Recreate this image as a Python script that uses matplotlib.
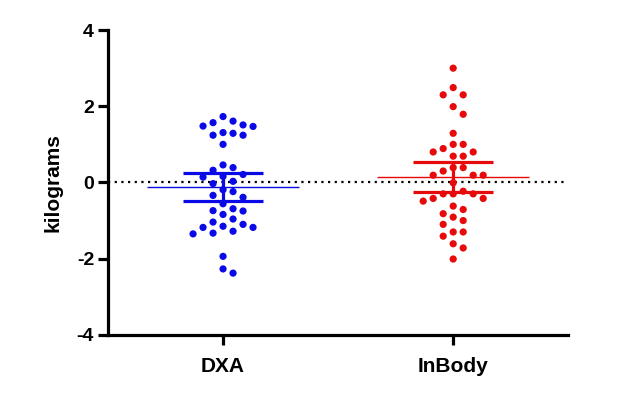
#!/usr/bin/env python3
"""Scatter dot plot (mean with 95% CI) of DXA vs InBody differences."""

import numpy as np
import matplotlib
matplotlib.use("Agg")
import matplotlib.pyplot as plt

# --- data (kg) ---
groups = ["DXA", "InBody"]
colors = ["#0a0ae6", "#e60a0a"]

dxa_values = [
    1.73, 1.48, 1.57, 1.61, 1.47, 1.51, 1.31, 1.24, 1.29, 1.24, 1.00,
    0.39, 0.46, 0.21, 0.14, 0.32, 0.03, 0.16, -0.03,
    -0.24, -0.19, -0.39, -0.34, -0.56, -0.69, -0.75, -0.74, -0.84,
    -0.96, -1.04, -1.10, -1.18, -1.28, -1.35, -1.33, -1.18, -1.15,
    -1.94, -2.27, -2.38,
]
inbody_values = [
    3.00, 2.49, 2.30, 2.30, 1.99, 1.79, 1.29, 1.00, 1.00, 0.89, 0.80,
    0.69, 0.69, 0.80, 0.39, 0.39, 0.30, 0.19, 0.19, 0.19, -0.01,
    -0.30, -0.30, -0.23, -0.30, -0.42, -0.49, -0.42, -0.62, -0.71,
    -0.82, -0.91, -1.00, -1.10, -1.30, -1.30, -1.41, -1.61, -1.72, -2.01,
]
yticks = [-4, -2, 0, 2, 4]

T_975 = 2.0227  # t quantile, df = 39


def swarm_offsets(values, px_per_y, px_per_x, diam=10.0):
    """Simple beeswarm: place points at the nearest free half-step slot."""
    order = np.argsort(values)[::-1]
    placed = []
    offs = np.zeros(len(values))
    step = diam / 2.0
    for i in order:
        y = values[i] * px_per_y
        k = 0
        while True:
            cands = [0.0] if k == 0 else [k * step, -k * step]
            done = False
            for c in cands:
                if all((c - px) ** 2 + (y - py) ** 2 >= diam ** 2 for px, py in placed):
                    offs[i] = c
                    placed.append((c, y))
                    done = True
                    break
            if done:
                break
            k += 1
    return offs / px_per_x


fig = plt.figure(figsize=(6.17, 4.01), dpi=100)
ax = fig.add_axes([0.175, 0.165, 0.746, 0.76])
ax.set_xlim(-0.5, 1.5)
ax.set_ylim(-4, 4)

# pixels per data unit, used to lay out the swarm
px_y = 0.76 * 401 / 8.0
px_x = 0.746 * 617 / 2.0

ax.axhline(0, color="black", linestyle=(0, (1, 2)), linewidth=1.6, zorder=1)

for pos, (vals, col) in enumerate(zip([dxa_values, inbody_values], colors)):
    vals = np.asarray(vals)
    x = pos + swarm_offsets(vals, px_y, px_x)
    ax.scatter(x, vals, s=27, color=col, edgecolors="none", zorder=3)

    mean = vals.mean()
    half = T_975 * vals.std(ddof=1) / np.sqrt(len(vals))
    ax.hlines(mean, pos - 0.33, pos + 0.33, color=col, linewidth=1.0, zorder=4)
    ax.hlines([mean - half, mean + half], pos - 0.175, pos + 0.175,
              color=col, linewidth=2.3, zorder=4)
    ax.vlines(pos, mean - half, mean + half, color=col, linewidth=2.3, zorder=4)

for side in ["top", "right"]:
    ax.spines[side].set_visible(False)
for side in ["left", "bottom"]:
    ax.spines[side].set_linewidth(2.3)

ax.set_xticks([0, 1])
ax.set_xticklabels(groups, fontsize=15, fontweight="bold",
                   family="Liberation Sans")
ax.set_yticks(yticks)
ax.set_yticklabels([str(t) for t in yticks], fontsize=14, fontweight="bold",
                   family="Liberation Sans")
ax.tick_params(axis="both", width=2.3, length=7, direction="out", pad=3)
ax.tick_params(axis="x", pad=9)
ax.set_ylabel("kilograms", fontsize=15, fontweight="bold",
              family="Liberation Sans", labelpad=10)

fig.savefig("out.png", dpi=100)
